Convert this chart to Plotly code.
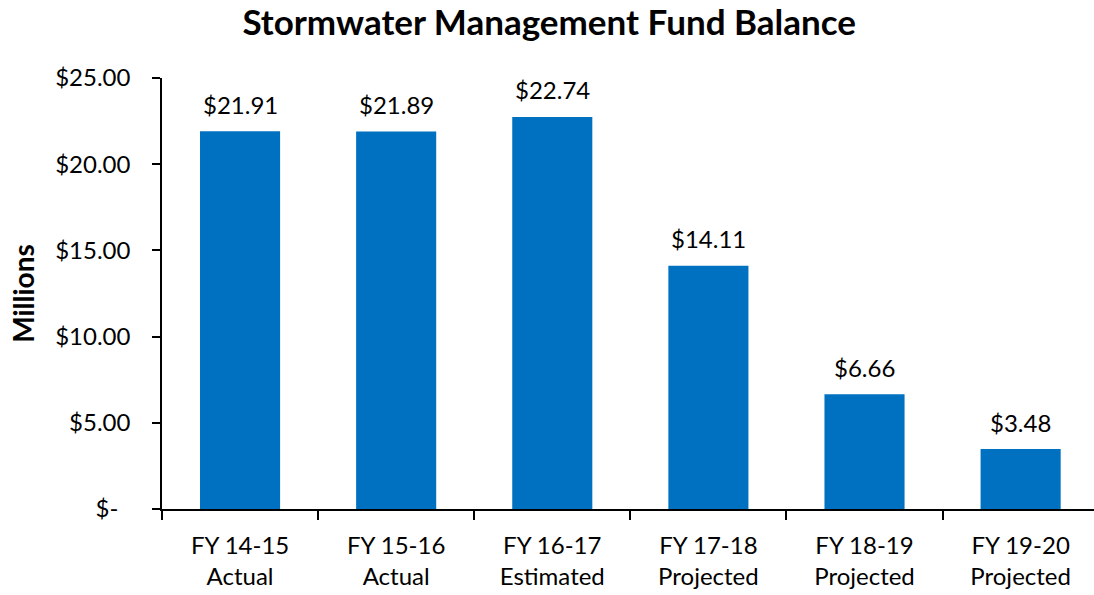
import plotly.graph_objects as go

categories = ["FY 14-15<br>Actual", "FY 15-16<br>Actual", "FY 16-17<br>Estimated",
              "FY 17-18<br>Projected", "FY 18-19<br>Projected", "FY 19-20<br>Projected"]
balances = [21.91, 21.89, 22.74, 14.11, 6.66, 3.48]
y_tick_vals = [0, 5, 10, 15, 20, 25]
y_tick_text = ["$-\u2002", "$5.00", "$10.00", "$15.00", "$20.00", "$25.00"]

FONT = "Lato"
BAR_COLOR = "#0070C0"

fig = go.Figure()
fig.add_trace(go.Bar(x=categories, y=balances, marker=dict(color=BAR_COLOR, line=dict(width=0)),
                     hoverinfo="x+y"))

for c, v in zip(categories, balances):
    fig.add_annotation(x=c, y=v, text=f"${v:.2f}", showarrow=False,
                       yanchor="middle", xanchor="center", yshift=27,
                       font=dict(family=FONT, size=24, color="black"))

fig.update_layout(
    width=1094, height=595,
    margin=dict(l=162, r=0, t=78, b=86, autoexpand=False),
    paper_bgcolor="white", plot_bgcolor="white",
    bargap=0.487,
    showlegend=False,
    title=dict(text="<b>Stormwater Management Fund Balance</b>",
               x=0.502, xanchor="center", y=1 - 23 / 595, yanchor="middle",
               font=dict(family=FONT, size=35, color="black")),
    font=dict(family=FONT, size=24, color="black"),
)
fig.update_xaxes(
    type="category", range=[-0.5, 5.47],
    showline=True, linecolor="black", linewidth=1.5,
    ticks="outside", tickson="boundaries", ticklen=9, tickcolor="black", tickwidth=1.5,
    ticklabelstandoff=14,
    tickfont=dict(family=FONT, size=24, color="black"),
    showgrid=False, zeroline=False,
)
fig.update_yaxes(
    range=[0, 25], tickvals=y_tick_vals, ticktext=y_tick_text,
    showline=True, linecolor="black", linewidth=1.5,
    ticks="outside", ticklen=8, tickcolor="black", tickwidth=1.5,
    ticklabelstandoff=17,
    tickfont=dict(family=FONT, size=24, color="black"),
    showgrid=False, zeroline=False,
    title=dict(text="<b>Millions</b>", standoff=12,
               font=dict(family=FONT, size=28, color="black")),
)

fig.write_html("out.html", config={"displayModeBar": False},
               post_script="document.body.style.margin='0px';")
